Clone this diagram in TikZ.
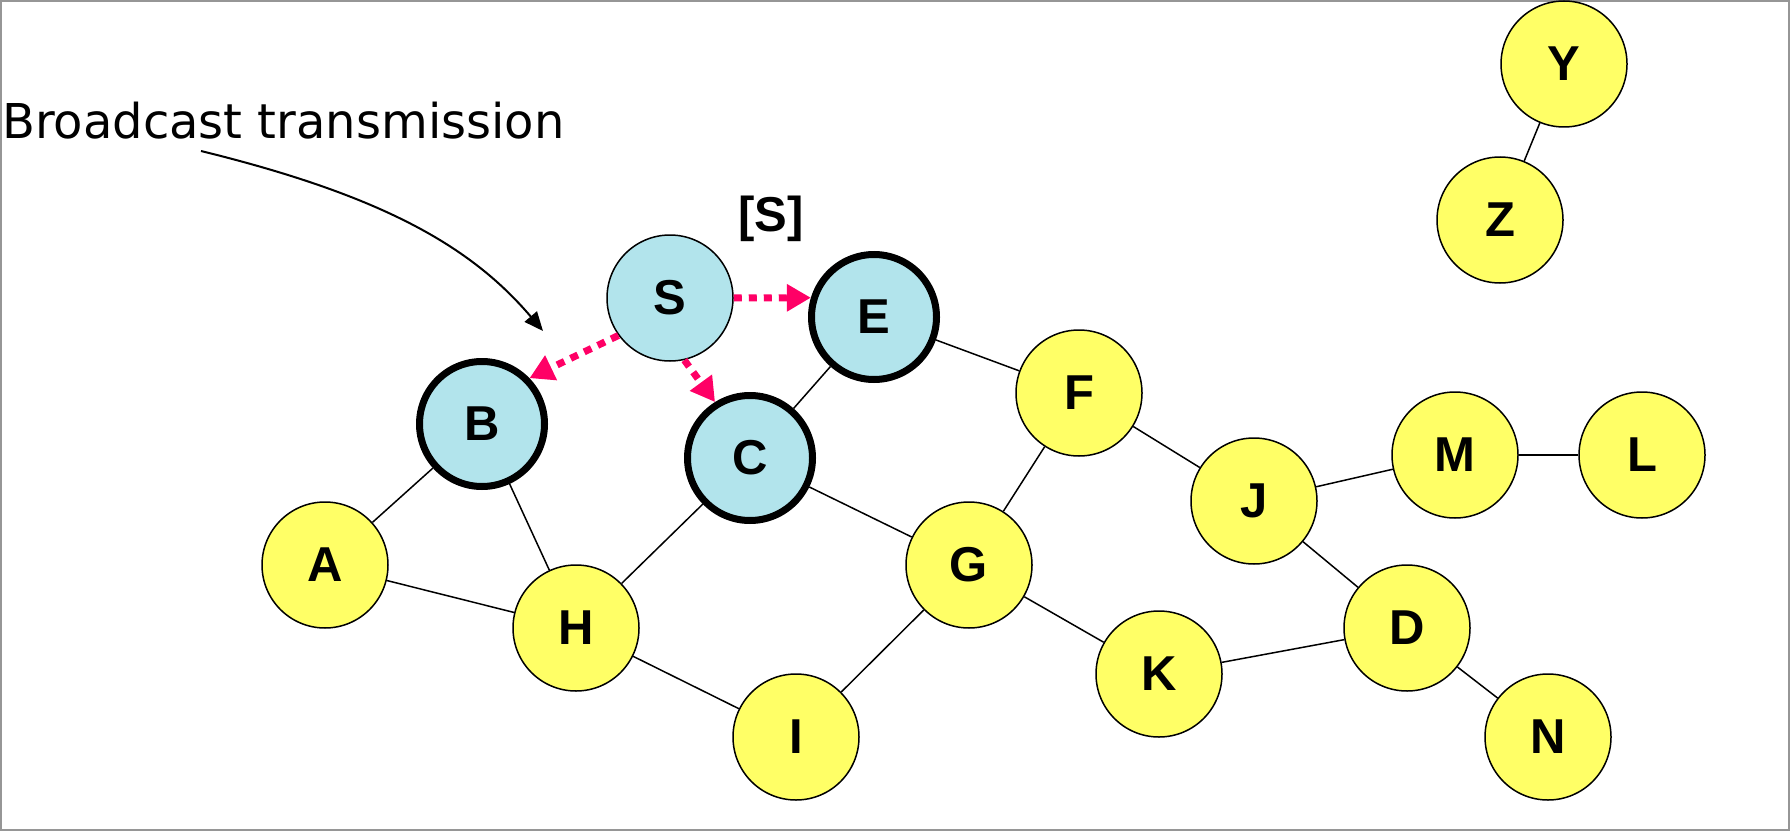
\documentclass[tikz,border=0pt]{standalone}
\usepackage{fontspec}
\setmainfont{Liberation Sans}
\newfontfamily\notefont{DejaVu Sans}
\usepackage{tikz}
\usetikzlibrary{arrows.meta}
\definecolor{hostyellow}{RGB}{255,255,102}
\definecolor{reachblue}{RGB}{178,228,236}
\definecolor{rreqpink}{RGB}{255,0,102}
\definecolor{framegray}{RGB}{150,150,150}
\tikzset{
  host/.style={circle,draw=black,line width=1.5pt,fill=hostyellow,minimum size=126pt,inner sep=0pt,font=\fontsize{49}{49}\selectfont\bfseries},
  srchost/.style={host,fill=reachblue},
  gothost/.style={host,fill=reachblue,line width=7pt,minimum size=125pt},
  link/.style={line width=1.5pt},
  rreq/.style={draw=rreqpink,line width=7pt,dash pattern=on 8pt off 7pt,-{Triangle[length=24pt,width=26pt]}},
}

\begin{document}
\begin{tikzpicture}[x=1pt,y=-1pt]
      \useasboundingbox (0,0) rectangle (1791,832);
      \draw[framegray,line width=2pt] (1,1) rectangle (1789,830);
      \node[gothost] (E) at (874,317) {E};
      \node[gothost] (B) at (482,424) {B};
      \node[gothost] (C) at (750,458) {C};
      \node[srchost] (S) at (670,298) {S};
      \node[host] (A) at (325,565) {A};
      \node[host] (H) at (576,628) {H};
      \node[host] (I) at (796,737) {I};
      \node[host] (G) at (969,565) {G};
      \node[host] (F) at (1079,393) {F};
      \node[host] (J) at (1254,501) {J};
      \node[host] (M) at (1455,455) {M};
      \node[host] (L) at (1642,455) {L};
      \node[host] (K) at (1159,674) {K};
      \node[host] (D) at (1407,628) {D};
      \node[host] (N) at (1548,737) {N};
      \node[host] (Y) at (1564,64) {Y};
      \node[host] (Z) at (1500,220) {Z};
      \node[font=\fontsize{49}{49}\selectfont\bfseries] (Slist) at (771,219) {[S]};
      \node[anchor=base west,inner sep=0pt,font=\notefont\fontsize{48}{48}\selectfont] (note) at (2,139) {Broadcast transmission};
      \draw[link] (A) -- (B);
      \draw[link] (A) -- (H);
      \draw[link] (B) -- (H);
      \draw[link] (H) -- (C);
      \draw[link] (H) -- (I);
      \draw[link] (C) -- (E);
      \draw[link] (C) -- (G);
      \draw[link] (E) -- (F);
      \draw[link] (F) -- (G);
      \draw[link] (F) -- (J);
      \draw[link] (G) -- (I);
      \draw[link] (G) -- (K);
      \draw[link] (J) -- (M);
      \draw[link] (M) -- (L);
      \draw[link] (J) -- (D);
      \draw[link] (K) -- (D);
      \draw[link] (D) -- (N);
      \draw[link] (Y) -- (Z);
      \draw[rreq] (S.0) -- (E.163);
      \draw[rreq] (S.216) -- (B.44);
      \draw[rreq] (S.283) -- (C.122);
      \coordinate (noteTail) at (201,151);
      \coordinate (noteHead) at (543,331);
      \draw[line width=2pt,-{Triangle[length=19pt,width=16pt]}] (noteTail) .. controls (380,195) and (470,245) .. (noteHead);
\end{tikzpicture}
\end{document}
